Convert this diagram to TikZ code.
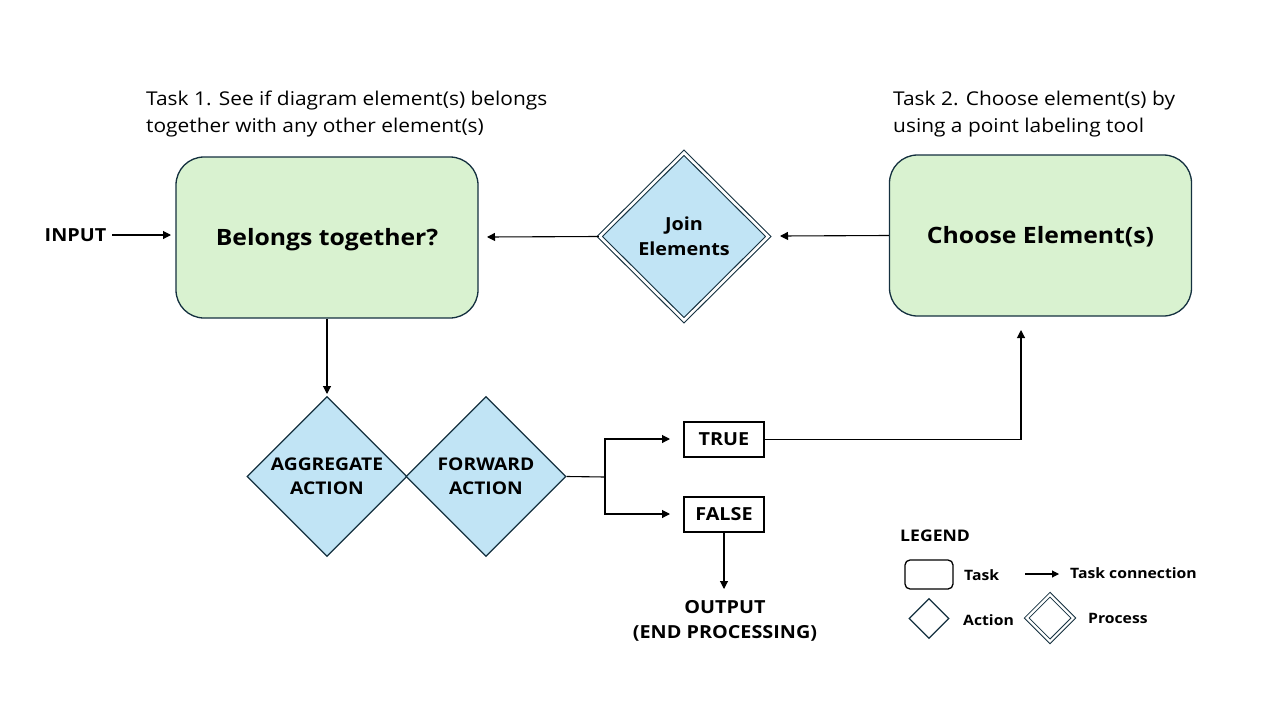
\documentclass[tikz,border=0pt]{standalone}
\usepackage{fontspec}
\setmainfont{Open Sans}[FakeStretch=1.1]
\usetikzlibrary{shapes.geometric,arrows.meta}
\definecolor{edge}{HTML}{14303F}
\definecolor{taskfill}{HTML}{D9F2D0}
\definecolor{actfill}{HTML}{C1E4F5}
\begin{document}
\begin{tikzpicture}[x=1pt,y=-1pt,
  task/.style={draw=edge,line width=1.3pt,fill=taskfill,rounded corners=28pt,minimum width=302pt,minimum height=161pt,inner sep=0pt,font=\fontsize{22.5}{27}\selectfont\bfseries},
  act/.style={diamond,draw=edge,line width=1.3pt,fill=actfill,minimum width=160pt,minimum height=160pt,inner sep=0pt,align=center,font=\fontsize{17.5}{24}\selectfont\bfseries},
  proc/.style={diamond,draw=edge,line width=1.1pt,double=white,double distance=2.6pt,fill=actfill,minimum width=169pt,minimum height=168pt,inner sep=0pt,align=center,font=\fontsize{18}{25}\selectfont\bfseries},
  flag/.style={draw=black,line width=1.1pt,minimum width=80pt,minimum height=35pt,inner sep=0pt,font=\fontsize{18}{20}\selectfont\bfseries},
  lbl/.style={inner sep=0pt,font=\fontsize{18}{24}\selectfont\bfseries},
  note/.style={inner sep=0pt,anchor=west,align=left,font=\fontsize{19}{27}\selectfont},
  leg/.style={inner sep=0pt,anchor=west,font=\fontsize{14.3}{17}\selectfont\bfseries},
  conn/.style={draw=black,line width=1.1pt,-{Triangle[length=8pt,width=8pt]}},
  wire/.style={draw=black,line width=1.1pt}]
\useasboundingbox (0,0) rectangle (1280,720);
% main tasks
\node[task] (belong) at (327,237.5) {\raisebox{-2.5pt}[\height][\depth]{Belongs together?}};
\node[task] (choose) at (1040.5,235.5) {\raisebox{-1.5pt}[\height][\depth]{Choose Element(s)}};
\node[proc] (join) at (684,236.5) {Join\\Elements};
\node[act] (agg) at (327,476.5) {AGGREGATE\\ACTION};
\node[act] (fwd) at (486,476.5) {FORWARD\\ACTION};
\node[flag] (true) at (724,439.5) {TRUE};
\node[flag] (false) at (724,514.5) {FALSE};
% texts
\node[lbl] (input) at (75.5,235.5) {INPUT};
\node[lbl,align=center,font=\fontsize{18}{25}\selectfont\bfseries] (output) at (725,620.5) {OUTPUT\\(END PROCESSING)};
\node[note] (t1) at (146,114) {Task 1. See if diagram element(s) belongs\\together with any other element(s)};
\node[note] (t2) at (893,114) {Task 2. Choose element(s) by\\using a point labeling tool};
% coordinates
\coordinate (inE) at (112,235);
\coordinate (inT) at (171,235);
\coordinate (bT) at (487,237);
\coordinate (jT) at (780,236);
\coordinate (aT) at (327,394);
\coordinate (fork) at (605,477);
\coordinate (tT) at (670,439);
\coordinate (fT) at (670,514);
\coordinate (cT) at (1021,330);
\coordinate (oT) at (724,589);
% connectors
\draw[conn] (inE) -- (inT);
\draw[conn] (join.west) -- (bT);
\draw[conn] (choose.west) -- (jT);
\draw[conn] (belong.south) -- (aT);
\draw[wire] (fwd.east) -- (fork);
\draw[conn] (fork) |- (tT);
\draw[conn] (fork) |- (fT);
\draw[conn] (true.east) -| (cT);
\draw[conn] (false.south) -- (oT);
% legend
\node[leg,font=\fontsize{16}{17}\selectfont\bfseries] (legend) at (900,536) {LEGEND};
\node[draw=black,line width=1.3pt,rounded corners=5pt,minimum width=48pt,minimum height=29pt,inner sep=0pt] (legtask) at (929,574.5) {};
\node[leg] (legtaskl) at (964,575) {Task};
\coordinate (la1) at (1025,574);
\coordinate (la2) at (1059,574);
\draw[conn,-{Triangle[length=7pt,width=7pt]}] (la1) -- (la2);
\node[leg] (legconn) at (1070,573.5) {Task connection};
\node[diamond,draw=edge,line width=1.2pt,minimum width=40pt,minimum height=40pt,inner sep=0pt] (legact) at (929,618.5) {};
\node[leg] (legactl) at (963,620) {Action};
\node[diamond,draw=edge,line width=1pt,double=white,double distance=2.2pt,minimum width=47pt,minimum height=47pt,inner sep=0pt] (legproc) at (1050,618) {};
\node[leg] (legprocl) at (1088,618.5) {Process};
\end{tikzpicture}
\end{document}
